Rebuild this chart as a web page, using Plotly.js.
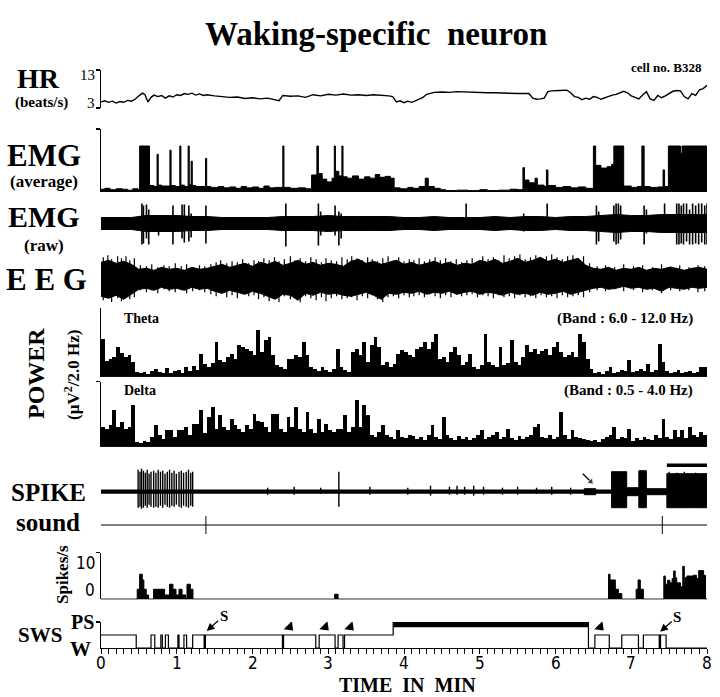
<!DOCTYPE html>
<html>
<head>
<meta charset="utf-8">
<script src="https://cdn.plot.ly/plotly-3.0.1.min.js"></script>
<style>html,body{margin:0;padding:0;background:#fff;}#chart{width:720px;height:697px;}</style>
</head>
<body>
<div id="chart"></div>
<script>
// ---------------- DATA (time in minutes) ----------------
// Heart rate (beats/s)
const hrT = [0.00,0.05,0.10,0.15,0.20,0.25,0.30,0.35,0.40,0.45,
  0.50,0.55,0.58,0.62,0.66,0.70,0.75,0.80,0.85,0.90,
  0.95,1.00,1.05,1.10,1.15,1.20,1.25,1.30,1.35,1.40,
  1.50,1.60,1.70,1.80,1.90,2.00,2.10,2.20,2.30,2.35,
  2.40,2.50,2.60,2.70,2.80,2.90,3.00,3.10,3.20,3.30,
  3.40,3.50,3.60,3.70,3.80,3.85,3.90,3.95,4.00,4.05,
  4.10,4.15,4.20,4.25,4.30,4.40,4.50,4.60,4.70,4.80,
  4.90,5.00,5.10,5.20,5.30,5.40,5.50,5.60,5.65,5.70,
  5.75,5.80,5.85,5.90,5.95,6.05,6.15,6.20,6.25,6.30,
  6.35,6.40,6.45,6.50,6.55,6.60,6.65,6.70,6.75,6.80,
  6.85,6.90,6.95,7.00,7.05,7.10,7.15,7.20,7.25,7.30,
  7.35,7.40,7.45,7.50,7.55,7.60,7.65,7.70,7.75,7.80,
  7.85,7.90,7.95,8.00];
const hrV = [4.6,4.9,4.5,4.8,4.3,4.7,4.5,5.0,4.8,5.3,
  6.2,6.9,6.5,4.6,5.8,6.4,6.0,6.3,5.6,6.2,
  5.9,6.5,6.3,6.8,6.6,6.9,6.4,6.7,6.3,6.5,
  6.2,6.0,5.8,5.9,5.5,5.7,5.4,5.6,5.0,4.9,
  6.3,6.1,6.2,5.8,6.5,6.2,6.6,6.4,6.7,6.4,
  6.5,6.3,6.5,6.4,6.2,6.0,4.6,4.9,4.4,4.8,
  4.5,4.9,5.3,5.8,6.6,7.1,7.2,7.1,7.3,7.2,
  7.2,7.1,7.0,7.0,6.9,6.9,6.8,6.8,6.8,5.6,
  5.3,5.4,5.6,7.3,7.5,7.6,7.7,7.0,6.0,5.8,
  5.2,5.6,5.3,6.0,5.8,5.3,5.7,6.2,6.4,6.6,
  7.1,7.4,7.0,6.2,5.8,5.4,6.4,7.3,5.4,5.0,
  6.3,5.7,6.2,6.9,7.4,7.6,7.5,6.0,5.4,6.8,
  6.3,7.8,8.1,9.0];

// EMG average (step breakpoints, % of saturation)
const emgAvgT = [0,0.05,0.12,0.2,0.28,0.35,0.42,0.49,0.51,0.64,
  0.70,0.74,0.755,0.80,0.91,0.925,0.98,1.04,1.055,1.10,
  1.15,1.165,1.19,1.205,1.25,1.38,1.395,1.45,1.55,1.62,
  1.70,1.78,1.85,1.92,2.0,2.08,2.15,2.22,2.30,2.40,
  2.415,2.50,2.60,2.70,2.78,2.85,2.87,2.92,2.98,3.05,
  3.08,3.095,3.14,3.18,3.195,3.25,3.32,3.40,3.48,3.55,
  3.62,3.68,3.75,3.82,3.87,3.95,4.05,4.12,4.20,4.28,
  4.32,4.40,4.48,4.55,4.70,4.85,5.00,5.10,5.25,5.40,
  5.50,5.57,5.59,5.65,5.73,5.76,5.85,5.88,5.90,6.0,
  6.1,6.2,6.3,6.4,6.50,6.53,6.60,6.68,6.74,6.77,
  6.90,7.00,7.08,7.14,7.17,7.25,7.35,7.42,7.44,7.49,
  7.65,7.67,8.0];
const emgAvgV = [6,8,5,7,6,4,7,5,100,14,
  12,82,15,13,91,14,12,100,15,12,
  100,16,67,14,12,73,12,10,12,9,
  11,8,12,9,11,8,13,9,10,100,
  10,8,9,7,37,100,40,28,22,30,
  100,45,35,100,33,30,35,28,33,30,
  38,32,34,30,9,7,10,8,12,30,
  12,8,5,3,4,3,5,3,4,6,
  5,53,26,20,30,15,12,48,14,10,
  12,9,11,8,100,58,52,55,60,100,
  13,10,12,100,12,10,11,48,12,100,
  84,100,100];

// EMG raw: band half-amplitude every 0.2 min, plus large deflections
const emgRawStep = 0.2;
const emgRawAmp = [6,6,6,8,8,8,7,7,6,6,6,6,7,7,7,8,7,7,7,7,6,6,7,6,6,6,7,6,7,7,6,7,7,8,9,8,8,9,9,9,9];
const emgRawSpikeT = [0.54,0.56,0.60,0.63,0.76,0.95,1.07,1.10,1.16,1.19,1.385,2.44,2.87,2.90,3.09,3.14,3.17,4.82,5.58,5.89,6.54,6.57,6.77,6.80,6.83,6.86,7.17,7.20,7.44,7.60,7.63,7.66,7.69,7.73,7.77,7.81,7.85,7.89,7.93,7.97,8.0];
const emgRawSpikeUp = [20,18,19,14,8,18,19,19,18,10,18,20,20,12,18,12,10,20,10,20,18,12,18,20,20,18,18,14,20,20,20,18,20,20,14,20,18,20,20,18,20];
const emgRawSpikeDn = [21,20,15,21,12,21,15,19,18,14,20,23,22,12,12,22,15,5,8,6,21,18,18,21,20,16,21,10,6,21,21,20,21,18,21,21,20,21,19,21,21];

// EEG envelope every 0.1 min (upper / lower excursion) and individual peaks
const eegStep = 0.1;
const eegUp = [16,18,15,17,14,9,10,8,11,9,
  10,8,11,9,10,12,14,11,13,15,
  12,16,14,17,13,15,18,14,16,13,
  15,14,12,17,19,15,17,14,16,18,
  14,16,13,15,17,14,16,13,15,14,
  18,16,19,15,17,20,16,18,21,17,
  19,16,18,20,13,10,9,11,8,10,
  9,11,8,10,9,11,10,8,10,11,9];
const eegDn = [18,20,17,21,16,11,10,12,9,11,
  10,12,9,11,10,13,15,12,14,16,
  13,15,18,21,16,17,22,15,17,14,
  16,15,17,18,16,14,17,21,15,16,
  14,15,13,16,14,15,13,16,14,13,
  16,14,15,17,14,16,15,17,14,16,
  15,13,16,14,12,10,9,11,10,8,
  10,9,11,10,13,9,10,11,9,10,9];
const eegPeakT = [0.03,0.09,0.14,0.22,0.27,0.33,0.38,0.44,0.52,0.6,
  0.67,0.75,0.83,0.9,0.98,1.06,1.13,1.21,1.3,1.37,
  1.45,1.52,1.58,1.66,1.73,1.8,1.87,1.95,2.02,2.08,
  2.15,2.22,2.29,2.35,2.42,2.5,2.56,2.63,2.7,2.77,
  2.84,2.91,2.97,3.04,3.11,3.18,3.25,3.31,3.38,3.45,
  3.52,3.58,3.65,3.72,3.79,3.86,3.93,4.0,4.07,4.13,
  4.2,4.27,4.34,4.41,4.48,4.55,4.62,4.69,4.76,4.83,
  4.9,4.97,5.04,5.11,5.18,5.25,5.32,5.39,5.46,5.53,
  5.6,5.67,5.74,5.81,5.88,5.95,6.02,6.09,6.16,6.23,
  6.3,6.37,6.45,6.55,6.66,6.78,6.9,7.03,7.15,7.28,
  7.4,7.52,7.64,7.76,7.88,7.97];
const eegPeakUp = [21,23,19,22,20,22,18,20,13,12,
  14,11,13,12,15,12,14,11,13,12,
  14,16,18,15,17,16,19,15,18,17,
  20,18,21,17,19,22,18,20,17,21,
  19,16,20,18,17,21,19,22,20,18,
  21,19,17,20,22,18,21,17,19,18,
  20,17,19,21,18,20,17,19,16,18,
  20,17,22,19,21,18,23,20,22,24,
  19,21,23,20,22,24,21,19,22,23,
  20,22,15,12,13,11,14,12,13,11,
  14,12,13,11,13,12];
const eegPeakDn = [22,19,24,20,23,18,21,19,12,14,
  12,15,11,13,14,12,15,13,12,14,
  16,18,15,19,17,20,16,18,17,21,
  19,23,20,24,18,21,19,25,18,20,
  22,19,23,20,18,21,20,19,22,18,
  20,17,21,24,19,18,20,17,19,18,
  17,19,16,18,20,17,19,16,18,17,
  16,19,17,18,20,17,19,18,20,17,
  19,18,20,17,19,18,20,17,19,18,
  17,19,14,12,13,11,13,12,14,12,
  15,12,13,12,14,13];

// Power, 0.05-min bins
const powerBin = 0.05;
const theta = [38,16,18,20,30,24,20,22,15,5,
  4,5,3,6,8,5,4,9,4,6,
  7,4,10,6,11,7,23,13,10,14,
  35,17,15,20,23,18,32,30,28,26,
  22,47,25,37,40,22,12,10,8,18,
  18,22,20,35,22,10,8,6,10,7,
  5,8,28,10,7,5,25,28,22,35,
  15,32,40,30,12,15,10,13,23,27,
  25,22,20,28,30,35,28,35,43,18,
  20,15,25,30,22,12,15,23,10,8,
  12,43,15,12,10,30,12,14,37,15,
  12,20,32,25,28,23,26,28,22,30,
  35,25,20,22,25,20,43,35,18,8,
  4,5,3,6,10,4,5,7,6,17,
  5,6,8,6,13,5,7,33,15,6,
  4,5,7,4,5,6,4,5,10,10];
const delta = [20,18,22,37,20,25,18,20,42,5,
  4,6,5,10,22,12,8,17,17,10,
  17,17,20,12,23,23,37,14,30,40,
  18,32,20,17,28,22,18,15,22,18,
  33,26,25,20,15,33,33,18,15,30,
  20,40,18,15,35,18,14,28,15,23,
  17,15,18,18,32,15,20,47,20,42,
  32,12,10,15,22,12,10,8,17,10,
  9,12,11,8,10,7,12,22,10,8,
  30,12,9,7,11,8,10,7,9,12,
  17,8,10,12,15,8,10,18,9,7,
  11,8,10,12,20,23,10,9,12,8,
  10,35,12,8,17,10,9,8,7,6,
  7,5,8,10,12,20,8,10,9,18,
  6,9,7,10,8,7,12,9,28,10,
  8,17,10,17,9,20,12,10,15,12];

// Unit spike trace
const spikeLineT = [0, 8];
const spikeT = [0.49,0.515,0.535,0.56,0.585,0.61,0.635,0.66,0.695,0.725,0.755,0.785,0.815,0.845,0.875,0.905,0.935,0.965,0.995,1.03,1.06,1.09,1.125,1.155,1.185,1.21,3.14,
  2.2,2.55,2.9,3.55,4.05,4.35,4.6,4.7,4.8,4.92,5.05,5.3,5.5,5.75,5.95,6.2,
  7.5,7.6,7.7,7.85,7.95];
const spikeUp = [22,20,23,21,19,22,18,20,21,19,22,20,21,18,20,22,19,21,18,20,21,19,20,22,19,20,20,
  4,5,4,5,4,6,5,6,5,6,5,4,5,4,5,4,
  20,19,20,19,18];
const spikeDn = [16,15,17,16,14,16,13,15,16,15,16,14,16,13,15,16,14,15,13,15,16,14,15,16,14,15,15,
  3,3,2,3,3,4,3,3,3,4,3,3,3,2,3,3,
  16,16,16,16,16];
const spikeBlockStart = [6.38, 6.74, 6.94, 7.10, 7.20, 7.47];
const spikeBlockEnd   = [6.53, 6.94, 7.10, 7.20, 7.47, 8.0];
const spikeBlockUp    = [3, 20, 4, 21, 3, 18];
const spikeBlockDn    = [3, 16, 4, 16, 3, 16];
const spikeBarT = [7.47, 8.02];
const spikeArrowT = [6.36, 6.467];
const spikeArrowV = [18, 10];

// Sound stimuli
const soundLineT = [0, 8];
const soundT = [1.385, 7.41];

// Firing rate (Spikes/s), step breakpoints
const rateT = [0,0.478,0.51,0.545,0.566,0.597,0.628,0.694,0.74,0.78,0.84,0.905,0.95,0.99,1.03,1.07,1.12,1.135,1.18,1.214,3.085,3.13,6.70,6.72,6.79,6.83,6.875,7.065,7.09,7.12,7.16,7.43,7.45,7.48,7.51,7.54,7.56,7.58,7.60,7.65,7.68,7.70,7.71,7.735,7.78,7.82,7.86,7.89,7.955,7.98,8.0];
const rateV = [0,2.8,7.0,5.4,2.8,1.2,0,2.8,2.8,2.8,1.2,4.2,2.8,1.2,2.8,1.2,0,4.2,2.8,0,1.4,0,7.0,5.4,2.8,1.6,0,2.8,5.4,2.8,0,6.5,4.2,5.3,4.6,5.8,7.9,6.0,4.6,3.5,9.2,4.0,6.0,6.5,6.5,6.7,5.8,8.0,6.7,0,0];

// Hypnogram: 0 = W, 1 = SWS, 2 = PS
const hypT = [0,0.465,0.66,0.71,0.79,0.81,0.85,0.89,1.015,1.03,1.095,1.13,1.21,2.395,2.41,2.835,2.88,3.09,3.13,3.195,3.215,3.857,6.435,6.52,6.71,6.875,7.095,7.16,7.46,8.0];
const hypS = [1,0,1,0,1,0,1,0,1,0,1,0,1,0,1,0,1,0,1,0,1,2,0,1,0,1,0,1,0,0];
const psBarT = [3.857, 6.435];
const soundWakeT = [1.37, 7.378];
const transArrowT = [2.49, 2.96, 3.29, 6.59];
const xTickVals = [0,1,2,3,4,5,6,7,8];
const xTickText = ['0','1','2','3','4','5','6','7','8'];

// ---------------- LAYOUT HELPERS ----------------
const W = 720, H = 697, L = 101, R = 13, PW = W - L - R;
const px2x = p => (p - L) / PW;
const px2y = p => 1 - p / H;
const dom = (top, bot) => [1 - bot / H, 1 - top / H];
const SERIF = '"Liberation Serif", "Times New Roman", serif';
const NARROW = '"Liberation Sans Narrow", "Arial Narrow", "DejaVu Sans Condensed", sans-serif';
const K = 'black';

function band(ts, ups, dns) {
  return { x: ts.concat(ts.slice().reverse()), y: ups.concat(dns.map(d => -d).reverse()) };
}
function vlines(ts, ups, dns) {
  const x = [], y = [];
  ts.forEach((t, i) => { x.push(t, t, null); y.push(ups[i], -dns[i], null); });
  return { x, y };
}
function blocks(s, e, u, d) {
  const x = [], y = [];
  s.forEach((t, i) => { x.push(t, e[i], e[i], t, t, null); y.push(u[i], u[i], -d[i], -d[i], u[i], null); });
  return { x, y };
}

const emgRawT = emgRawAmp.map((_, i) => i * emgRawStep);
const eegT = eegUp.map((_, i) => i * eegStep);
const binX = theta.map((_, i) => (i + 0.5) * powerBin);

const traces = [];
// HR
traces.push({ x: hrT, y: hrV, xaxis: 'x', yaxis: 'y', mode: 'lines', line: { color: K, width: 1.4 } });
// EMG average
traces.push({ x: emgAvgT, y: emgAvgV, yaxis: 'y2', mode: 'lines', line: { color: K, width: 1, shape: 'hv' }, fill: 'tozeroy', fillcolor: K });
// EMG raw
const rb = band(emgRawT, emgRawAmp, emgRawAmp);
traces.push({ x: rb.x, y: rb.y, yaxis: 'y3', mode: 'lines', line: { color: K, width: 1 }, fill: 'toself', fillcolor: K });
const rs = vlines(emgRawSpikeT, emgRawSpikeUp, emgRawSpikeDn);
traces.push({ x: rs.x, y: rs.y, yaxis: 'y3', mode: 'lines', line: { color: K, width: 1.6 } });
// EEG
const eb = band(eegT, eegUp, eegDn);
traces.push({ x: eb.x, y: eb.y, yaxis: 'y4', mode: 'lines', line: { color: K, width: 1 }, fill: 'toself', fillcolor: K });
const ep = vlines(eegPeakT, eegPeakUp, eegPeakDn);
traces.push({ x: ep.x, y: ep.y, yaxis: 'y4', mode: 'lines', line: { color: K, width: 1.2 } });
// Power
traces.push({ type: 'bar', x: binX, y: theta, width: powerBin, yaxis: 'y5', marker: { color: K, line: { width: 0 } } });
traces.push({ type: 'bar', x: binX, y: delta, width: powerBin, yaxis: 'y6', marker: { color: K, line: { width: 0 } } });
// Spike
traces.push({ x: spikeLineT, y: [0, 0], yaxis: 'y7', mode: 'lines', line: { color: K, width: 4.2 } });
const sv = vlines(spikeT, spikeUp, spikeDn);
traces.push({ x: sv.x, y: sv.y, yaxis: 'y7', mode: 'lines', line: { color: K, width: 1.4 } });
const sb = blocks(spikeBlockStart, spikeBlockEnd, spikeBlockUp, spikeBlockDn);
traces.push({ x: sb.x, y: sb.y, yaxis: 'y7', mode: 'lines', line: { color: K, width: 1 }, fill: 'toself', fillcolor: K });
traces.push({ x: spikeBarT, y: [26.5, 26.5], yaxis: 'y7', mode: 'lines', line: { color: K, width: 3.5 } });
traces.push({ x: spikeArrowT, y: spikeArrowV, yaxis: 'y7', mode: 'lines+markers', line: { color: K, width: 1.3 },
  marker: { symbol: 'triangle-up', angle: 135, size: [0, 7], color: K } });
// Sound
traces.push({ x: soundLineT, y: [0, 0], yaxis: 'y8', mode: 'lines', line: { color: K, width: 1 } });
const sd = vlines(soundT, soundT.map(() => 9), soundT.map(() => 9));
traces.push({ x: sd.x, y: sd.y, yaxis: 'y8', mode: 'lines', line: { color: K, width: 1 } });
// Rate
traces.push({ x: rateT, y: rateV, yaxis: 'y9', mode: 'lines', line: { color: K, width: 1, shape: 'hv' }, fill: 'tozeroy', fillcolor: K });
// Hypnogram
traces.push({ x: hypT, y: hypS, yaxis: 'y10', mode: 'lines', line: { color: K, width: 1.2, shape: 'hv' } });
traces.push({ x: psBarT, y: [1.8, 1.8], yaxis: 'y10', mode: 'lines', line: { color: K, width: 5.5 } });
const hw = vlines(soundWakeT, soundWakeT.map(() => 1), soundWakeT.map(() => 0));
traces.push({ x: hw.x, y: hw.y, yaxis: 'y10', mode: 'lines', line: { color: K, width: 2.5 } });
traces.push({ x: transArrowT, y: transArrowT.map(() => 1.62), yaxis: 'y10', mode: 'markers',
  marker: { symbol: 'triangle-up', angle: 135, size: 10, color: K } });

// axes
const hidden = { visible: false, showgrid: false, zeroline: false, anchor: 'x', fixedrange: true };
function bracket(domain, range, tickTop) {
  return { domain, range, anchor: 'x', showline: true, linecolor: K, linewidth: 1.2, showgrid: false, zeroline: false,
    ticks: tickTop === null ? '' : 'outside', tickvals: tickTop === null ? [] : tickTop, ticklen: 4, tickwidth: 1.2, tickcolor: K,
    showticklabels: false, fixedrange: true };
}

const layout = {
  width: W, height: H, margin: { l: L, r: R, t: 0, b: 0 }, paper_bgcolor: 'white', plot_bgcolor: 'rgba(0,0,0,0)',
  showlegend: false, bargap: 0,
  xaxis: { domain: [0, 1], range: [0, 8], anchor: 'y10', showline: true, linecolor: K, linewidth: 1.2,
    ticks: 'outside', ticklen: 5, tickwidth: 1, tickcolor: K, tickvals: xTickVals, showticklabels: false,
    minor: { dtick: 0.1, tick0: 0, ticks: 'outside', ticklen: 5, tickwidth: 1, tickcolor: K, showgrid: false },
    showgrid: false, zeroline: false, fixedrange: true },
  yaxis: bracket(dom(70, 108), [3, 13], [3, 13]),
  yaxis2: bracket(dom(129, 192), [0, 137], [137]),
  yaxis3: Object.assign({ domain: dom(200, 247), range: [-23.5, 23.5] }, hidden),
  yaxis4: Object.assign({ domain: dom(254.3, 302.3), range: [-24, 24] }, hidden),
  yaxis5: bracket(dom(308, 376.7), [0, 68.7], null),
  yaxis6: bracket(dom(381.7, 446.7), [0, 65], [65]),
  yaxis7: Object.assign({ domain: dom(460, 520), range: [-28.3, 31.7] }, hidden),
  yaxis8: Object.assign({ domain: dom(512, 538), range: [-13, 13] }, hidden),
  yaxis9: bracket(dom(552.7, 599.3), [0, 13], [13]),
  yaxis10: bracket(dom(622, 648), [0, 2], [2]),
  shapes: ['y2', 'y5', 'y6', 'y9'].map(yr => ({ type: 'line', xref: 'paper', x0: 0, x1: 1, yref: yr, y0: 0, y1: 0, line: { color: K, width: 1.2 } })),
  annotations: []
};

function lab(text, x, y, size, o) {
  o = o || {};
  layout.annotations.push(Object.assign({
    text, xref: 'paper', yref: 'paper', x: px2x(x), y: px2y(y), showarrow: false,
    xanchor: 'center', yanchor: 'middle', font: { family: SERIF, size, color: K }
  }, o));
}
// x tick labels placed just under the ticks
xTickVals.forEach((v, i) => layout.annotations.push({
  text: xTickText[i], xref: 'x', yref: 'paper', x: v, y: px2y(663), showarrow: false,
  xanchor: 'center', yanchor: 'middle', font: { family: NARROW, size: 17, color: K }
}));
lab('<b>Waking-specific\u00a0\u00a0neuron</b>', 376, 34, 33);
lab('<b>cell no. B328</b>', 704, 68, 13, { xanchor: 'right' });
lab('<b>HR</b>', 38, 78, 28);
lab('<b>(beats/s)</b>', 41, 102, 15);
lab('13', 97, 75, 15, { xanchor: 'right' });
lab('3', 97, 103, 15, { xanchor: 'right' });
lab('<b>EMG</b>', 44, 155, 31);
lab('<b>(average)</b>', 44, 181, 17);
lab('<b>EMG</b>', 44, 217, 30);
lab('<b>(raw)</b>', 44, 245, 17);
lab('<b>E\u00a0E\u00a0G</b>', 46, 279, 31);
lab('<b>POWER</b>', 36, 374, 24, { textangle: -90 });
lab('<b>(µV<sup>2</sup>/2.0 Hz)</b>', 72, 375, 17, { textangle: -90 });
lab('<b>Theta</b>', 122, 318, 14, { xanchor: 'left' });
lab('<b>(Band : 6.0 - 12.0 Hz)</b>', 695, 318, 15, { xanchor: 'right' });
lab('<b>Delta</b>', 122, 390, 14, { xanchor: 'left' });
lab('<b>(Band : 0.5 - 4.0 Hz)</b>', 695, 390, 15, { xanchor: 'right' });
lab('<b>SPIKE</b>', 48, 492, 25);
lab('<b>sound</b>', 48, 522, 25);
lab('<b>Spikes/s</b>', 62, 575, 17, { textangle: -90 });
lab('10', 97, 563, 17, { xanchor: 'right', font: { family: NARROW, size: 17, color: K } });
lab('0', 97, 590, 17, { xanchor: 'right', font: { family: NARROW, size: 17, color: K } });
lab('<b>PS</b>', 96, 622, 20, { xanchor: 'right' });
lab('<b>SWS</b>', 40, 635, 21);
lab('<b>W</b>', 93, 649, 21, { xanchor: 'right' });
lab('<b>TIME\u00a0\u00a0IN\u00a0\u00a0MIN</b>', 407, 685, 20);

// "S" arrows (sound-evoked awakenings)
[[1.395, 1.31], [7.382, 1.25]].forEach(p => layout.annotations.push({
  text: '<b>S</b>', xref: 'x', yref: 'y10', x: p[0], y: p[1], ax: 17, ay: -15, showarrow: true,
  arrowhead: 2, arrowsize: 1.2, arrowwidth: 1.3, arrowcolor: K, font: { family: SERIF, size: 15, color: K }
}));

Plotly.newPlot('chart', traces, layout, { staticPlot: true, displayModeBar: false });
</script>
</body>
</html>
